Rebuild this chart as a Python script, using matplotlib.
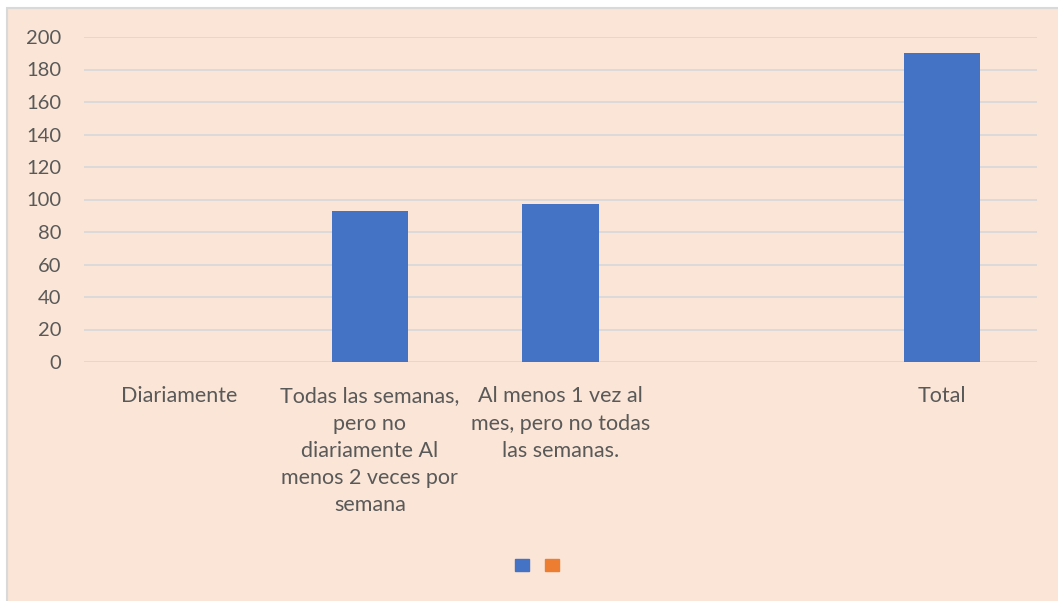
import matplotlib.pyplot as plt
from matplotlib.patches import Rectangle, Patch

categories = ["Diariamente",
              "Todas las semanas,\npero no\ndiariamente Al\nmenos 2 veces por\nsemana",
              "Al menos 1 vez al\nmes, pero no todas\nlas semanas.",
              "",
              "Total"]
serie1 = [0, 93, 97, 0, 190]
serie2 = [0, 0, 0, 0, 0]
yticks = [0, 20, 40, 60, 80, 100, 120, 140, 160, 180, 200]

bg = '#FAE5D6'
txt = '#595959'
plt.rcParams['font.family'] = ['Lato', 'DejaVu Sans']

fig = plt.figure(figsize=(10.58, 6.01), dpi=100)
fig.patch.set_facecolor('white')
# chart area with light border
fig.patches.append(Rectangle((7 / 1058, -0.01), 1.0, 1 - 8 / 601 + 0.01,
                             transform=fig.transFigure, facecolor=bg,
                             edgecolor='#D9D9D9', linewidth=1.5, zorder=-10))

ax = fig.add_axes([84 / 1058, 1 - 362 / 601, (1037 - 84) / 1058, (362 - 37) / 601])
ax.set_facecolor('none')
x = list(range(len(categories)))
ax.bar(x, serie1, width=0.4, color='#4472C4', linewidth=0, zorder=3)
ax.bar(x, serie2, width=0.4, color='#ED7D31', linewidth=0, zorder=3)

ax.set_xlim(-0.5, len(categories) - 0.5)
ax.set_ylim(0, 200)
ax.set_yticks(yticks)
ax.yaxis.grid(True, color='#D9D9D9', linewidth=1.3, zorder=0)
ax.set_axisbelow(True)
for s in ax.spines.values():
    s.set_visible(False)
ax.tick_params(axis='both', length=0, colors=txt)
ax.tick_params(axis='y', pad=16.5, labelsize=14.5)
ax.tick_params(axis='x', pad=17.5, labelsize=15.5)
ax.set_xticks(x)
ax.set_xticklabels(categories, linespacing=1.45, va='top', ha='center',
                   multialignment='center')

handles = [Patch(color='#4472C4'), Patch(color='#ED7D31')]
fig.legend(handles, ['', ''], ncol=2, loc='center',
           bbox_to_anchor=(537 / 1058, 1 - 565 / 601), frameon=False,
           handlelength=1, handleheight=1, handletextpad=0, columnspacing=1.2,
           fontsize=10)

fig.savefig('out.png', dpi=100, facecolor=fig.get_facecolor())
